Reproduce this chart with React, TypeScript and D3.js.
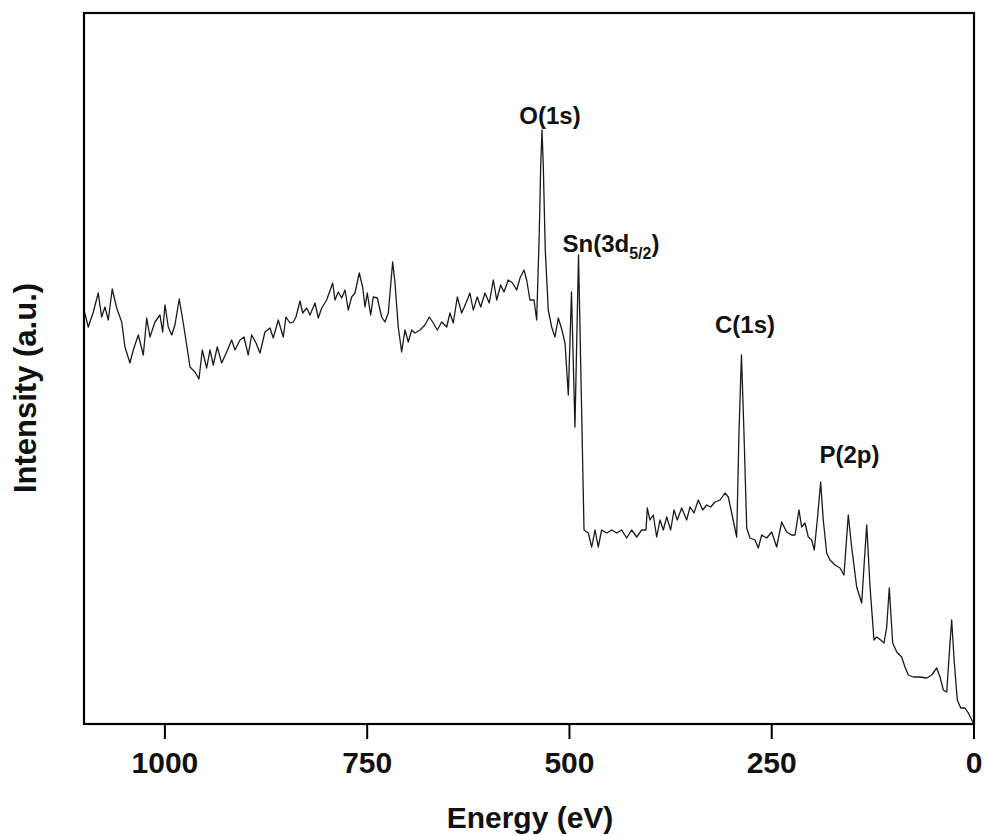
import React from "react";
import * as d3 from "d3";

// XPS survey spectrum (binding energy in eV, intensity in a.u.)
const energy = [
  1099, 1094.7, 1088.5, 1082.4, 1078.2, 1074.1, 1070.0, 1065.1, 1059.6, 1053.4,
  1049.4, 1043.2, 1039.1, 1032.9, 1026.7, 1022.5, 1018.5, 1012.3, 1006.1, 1002.8,
  999.9, 995.8, 991.6, 987.6, 982.3, 977.3, 973.1, 969.0, 962.8, 957.9,
  953.8, 948.4, 944.3, 940.2, 935.3, 929.8, 923.7, 917.5, 913.4, 907.2,
  902.3, 897.0, 892.8, 887.4, 882.5, 876.3, 870.1, 866.1, 859.9, 853.7,
  850.4, 845.4, 841.3, 838.0, 833.1, 829.7, 824.8, 820.7, 814.5, 810.4,
  806.2, 800.1, 792.6, 789.8, 785.7, 781.5, 777.4, 773.4, 769.2, 765.1,
  759.8, 755.6, 752.7, 749.9, 745.7, 742.5, 737.5, 732.1, 728.0, 723.9,
  718.5, 715.6, 711.6, 707.4, 703.3, 699.2, 695.0, 690.9, 684.7, 678.6,
  673.2, 668.3, 663.4, 657.9, 651.7, 647.7, 643.6, 638.6, 633.2, 627.9,
  623.0, 618.9, 613.9, 609.7, 604.4, 599.1, 594.1, 589.9, 585.0, 580.9,
  575.6, 570.2, 565.2, 561.1, 556.2, 552.9, 548.8, 543.8, 540.5, 537.3,
  535.6, 533.9, 532.3, 529.9, 526.2, 522.0, 517.9, 513.8, 509.6, 505.5,
  501.4, 497.5, 493.2, 488.8, 482.0, 476.7, 472.5, 468.4, 464.4, 460.2,
  454.0, 447.8, 441.6, 435.4, 429.3, 423.1, 416.9, 410.7, 405.4, 403.8,
  400.5, 396.4, 392.2, 388.1, 384.0, 379.8, 374.9, 370.8, 366.7, 361.3,
  355.1, 351.0, 346.1, 340.8, 335.3, 330.4, 325.4, 320.1, 313.9, 307.8,
  303.7, 299.5, 293.3, 290.5, 287.4, 284.3, 280.9, 276.9, 270.7, 266.6,
  262.4, 256.2, 250.0, 243.9, 237.7, 231.5, 225.3, 221.2, 216.3, 213.0,
  208.9, 204.8, 200.6, 197.4, 193.7, 189.5, 186.3, 182.1, 178.0, 171.8,
  165.6, 160.7, 158.2, 155.4, 151.2, 145.0, 138.8, 136.0, 132.6, 128.5,
  123.6, 120.3, 115.3, 111.2, 107.9, 104.7, 100.5, 95.5, 89.4, 85.3,
  81.2, 75.0, 66.7, 58.5, 52.3, 46.1, 42.0, 37.9, 33.7, 30.5,
  27.6, 24.3, 20.6, 16.4, 11.1, 7.0, 0.9,
];

const intensity = [
  411, 397, 412, 431, 407, 417, 404, 435, 416, 402,
  377, 361, 374, 389, 369, 406, 387, 402, 409, 392,
  419, 397, 389, 399, 425, 401, 379, 357, 352, 345,
  374, 356, 374, 359, 377, 361, 372, 384, 374, 384,
  387, 369, 389, 381, 371, 392, 396, 386, 404, 387,
  407, 401, 402, 407, 423, 411, 416, 409, 421, 406,
  416, 424, 441, 424, 432, 426, 434, 414, 427, 431,
  451, 437, 417, 431, 409, 427, 426, 407, 402, 411,
  462, 441, 397, 372, 394, 382, 394, 391, 394, 399,
  407, 401, 394, 402, 397, 411, 401, 427, 411, 421,
  431, 414, 427, 417, 431, 421, 444, 424, 439, 432,
  444, 441, 434, 446, 454, 444, 424, 424, 404, 491,
  557, 594, 557, 474, 414, 397, 387, 406, 395, 381,
  329, 432, 297, 469, 194, 191, 177, 194, 177, 194,
  191, 194, 191, 194, 186, 194, 187, 194, 194, 216,
  204, 209, 187, 204, 194, 207, 194, 214, 204, 216,
  204, 217, 211, 224, 214, 219, 217, 222, 224, 231,
  227, 211, 187, 291, 369, 291, 196, 186, 184, 176,
  189, 186, 192, 177, 202, 192, 189, 189, 214, 197,
  201, 187, 184, 174, 204, 242, 204, 171, 164, 159,
  156, 149, 177, 209, 177, 137, 121, 157, 199, 137,
  84, 87, 84, 81, 97, 136, 81, 72, 67, 57,
  49, 47, 47, 46, 49, 56, 47, 34, 32, 71,
  104, 61, 24, 16, 16, 11, 1,
];

const xTicks = [1000, 750, 500, 250, 0];
const xDomain = [1100, 0];
const yDomain = [0, 711];

const peakNames = ["O(1s)", "Sn(3d", "C(1s)", "P(2p)"];
const peakLabelEnergy = [524, 508.6, 283, 154];
const peakLabelIntensity = [600, 472, 391, 261];
const peakAnchor = ["middle", "start", "middle", "middle"];

const xTitle = "Energy (eV)";
const yTitle = "Intensity (a.u.)";

const FONT = "'Liberation Sans', Arial, Helvetica, sans-serif";

export default function App() {
  const left = 84, right = 974, top = 13, bottom = 724;
  const x = d3.scaleLinear().domain(xDomain).range([left, right]);
  const y = d3.scaleLinear().domain(yDomain).range([bottom, top]);

  const pts = energy.map((e, i) => [e, intensity[i]] as [number, number]);
  const line = d3
    .line<[number, number]>()
    .x((d) => x(d[0]))
    .y((d) => y(d[1]));

  return (
    <svg
      width={984}
      height={836}
      style={{ position: "absolute", left: 0, top: 0, background: "#fff" }}
      fontFamily={FONT}
    >
      <rect x={0} y={0} width={984} height={836} fill="#fff" />
      <path d={line(pts) || ""} fill="none" stroke="#1a1a1a" strokeWidth={1.3} strokeLinejoin="round" />
      <rect x={left} y={top} width={right - left} height={bottom - top} fill="none" stroke="#000" strokeWidth={2.2} />
      {xTicks.map((t) => (
        <g key={t}>
          <line x1={x(t)} x2={x(t)} y1={bottom} y2={bottom + 15} stroke="#000" strokeWidth={2} />
          <text x={x(t)} y={773} textAnchor="middle" fontSize={30} fontWeight="bold" fill="#111">
            {t}
          </text>
        </g>
      ))}
      <text x={530} y={828} textAnchor="middle" fontSize={30} fontWeight="bold" fill="#111">
        {xTitle}
      </text>
      <text
        transform={`translate(36, 388) rotate(-90)`}
        textAnchor="middle"
        fontSize={31}
        fontWeight="bold"
        fill="#111"
      >
        {yTitle}
      </text>
      {peakNames.map((n, i) => (
        <text
          key={n}
          x={x(peakLabelEnergy[i])}
          y={y(peakLabelIntensity[i])}
          textAnchor={peakAnchor[i]}
          fontSize={24}
          fontWeight="bold"
          fill="#111"
        >
          {n}
          {n.startsWith("Sn") ? (
            <>
              <tspan fontSize={16} dy={7}>5/2</tspan>
              <tspan fontSize={24} dy={-7}>)</tspan>
            </>
          ) : null}
        </text>
      ))}
    </svg>
  );
}
